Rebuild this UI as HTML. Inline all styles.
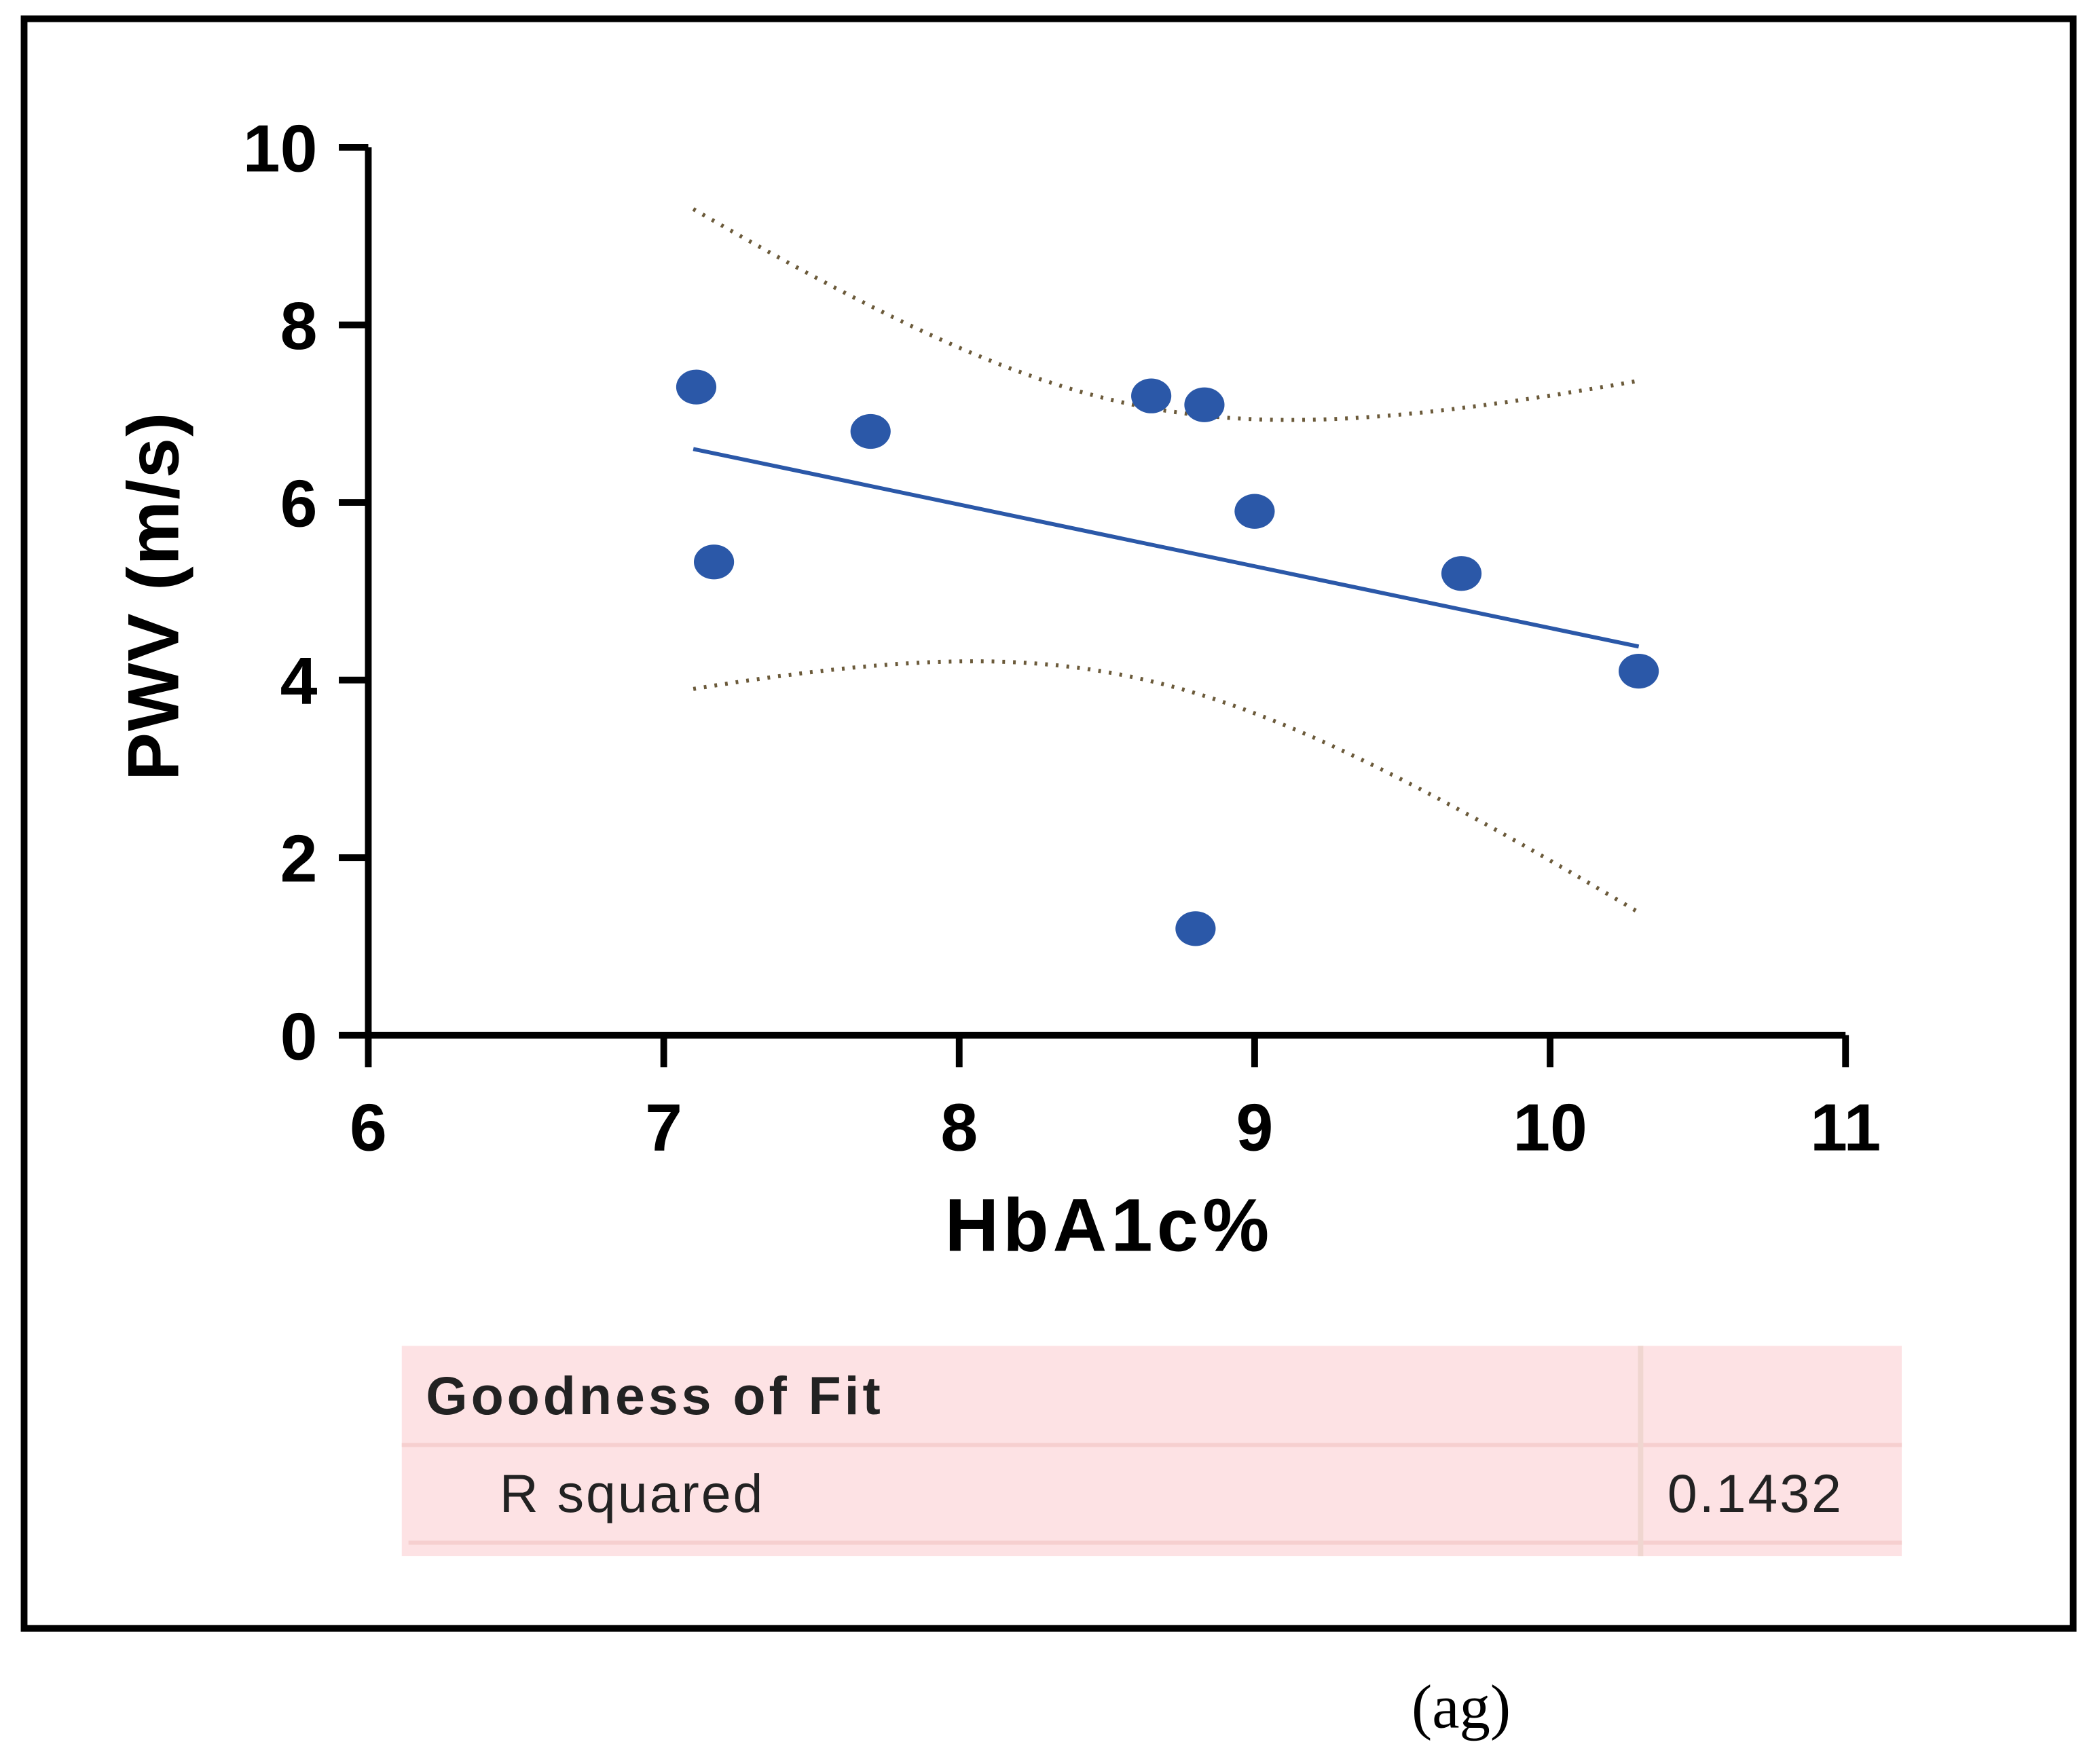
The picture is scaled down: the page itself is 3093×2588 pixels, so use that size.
<!DOCTYPE html>
<html><head><meta charset="utf-8"><style>
html,body{margin:0;padding:0;background:#fff;}
svg{display:block;}
text{font-family:"Liberation Sans",sans-serif;}
</style></head><body>
<svg id="chart" width="3093" height="2588" viewBox="0 0 1568 1312" preserveAspectRatio="none" xmlns="http://www.w3.org/2000/svg">
<rect x="18" y="14" width="1530" height="1202" fill="none" stroke="#000" stroke-width="5"/>
<g id="plot"></g>
<text transform="translate(133,445) rotate(-90)" text-anchor="middle" font-size="54" font-weight="bold" letter-spacing="1">PWV (m/s)</text>
<text x="828" y="934" text-anchor="middle" font-size="56" font-weight="bold" letter-spacing="3">HbA1c%</text>
<g>
<rect x="300" y="1005" width="1120" height="157" fill="#fde2e4"/>
<line x1="300" y1="1079" x2="1420" y2="1079" stroke="#f6cfcf" stroke-width="3"/>
<line x1="305" y1="1152" x2="1420" y2="1152" stroke="#f6cfcf" stroke-width="3"/>
<line x1="1225" y1="1005" x2="1225" y2="1162" stroke="#f0d6d0" stroke-width="4"/>
<text x="318" y="1056" font-size="40" font-weight="bold" fill="#222" letter-spacing="2.5">Goodness of Fit</text>
<text x="373" y="1129" font-size="40" fill="#222" letter-spacing="1.5">R squared</text>
<text x="1245" y="1129" font-size="40" fill="#222" letter-spacing="1.5">0.1432</text>
</g>
<text x="1091" y="1290" text-anchor="middle" font-size="46" style="font-family:'Liberation Serif',serif">(ag)</text>
</svg>
<script>
const xVals = [7.11, 7.17, 7.7, 8.65, 8.83, 9.0, 8.8, 9.7, 10.3];
const yVals = [7.3, 5.33, 6.8, 7.2, 7.1, 5.9, 1.2, 5.2, 4.1];
const xTicks = [6, 7, 8, 9, 10, 11];
const yTicks = [0, 2, 4, 6, 8, 10];
const fitRange = [7.1, 10.3];
const tCrit = 2.365;

const NS = "http://www.w3.org/2000/svg";
const g = document.getElementById('plot');
const X0 = 275, X1 = 1378, Y0 = 773, Y1 = 110;
const sx = v => X0 + (v - 6) / (11 - 6) * (X1 - X0);
const sy = v => Y0 - (v - 0) / (10 - 0) * (Y0 - Y1);
function mk(tag, attrs) { const e = document.createElementNS(NS, tag); for (const k in attrs) e.setAttribute(k, attrs[k]); g.appendChild(e); return e; }

let e;
e = mk('line', {x1: X0, y1: Y0 + 2, x2: X0, y2: Y1, stroke: '#000', 'stroke-width': 5});


e = mk('line', {x1: X0 - 2, y1: Y0, x2: X1, y2: Y0, stroke: '#000', 'stroke-width': 5});



yTicks.forEach(t => {
  const y = sy(t);
  e = mk('line', {x1: X0 - 22, y1: y, x2: X0, y2: y, stroke: '#000', 'stroke-width': 5});
  
  
  e = mk('text', {x: X0 - 38, y: y + 18, 'text-anchor': 'end', 'font-size': 50, 'font-weight': 'bold'});
  e.textContent = t;
  
  
});
xTicks.forEach(t => {
  const x = sx(t);
  e = mk('line', {x1: x, y1: Y0, x2: x, y2: Y0 + 24, stroke: '#000', 'stroke-width': 5});
  
  
  e = mk('text', {x: x, y: Y0 + 86, 'text-anchor': 'middle', 'font-size': 50, 'font-weight': 'bold'});
  e.textContent = t;
  
  
});

// regression
const n = xVals.length;
const mx = xVals.reduce((a, b) => a + b, 0) / n;
const my = yVals.reduce((a, b) => a + b, 0) / n;
let sxx = 0, sxy = 0;
for (let i = 0; i < n; i++) { sxx += (xVals[i] - mx) ** 2; sxy += (xVals[i] - mx) * (yVals[i] - my); }
const slope = sxy / sxx, icpt = my - slope * mx;
let sse = 0;
for (let i = 0; i < n; i++) sse += (yVals[i] - (icpt + slope * xVals[i])) ** 2;
const se = Math.sqrt(sse / (n - 2));
const half = x => tCrit * se * Math.sqrt(1 / n + (x - mx) ** 2 / sxx);
let up = '', lo = '';
for (let k = 0; k <= 60; k++) {
  const x = fitRange[0] + (fitRange[1] - fitRange[0]) * k / 60;
  const yh = icpt + slope * x;
  up += (k ? 'L' : 'M') + sx(x) + ',' + sy(yh + half(x));
  lo += (k ? 'L' : 'M') + sx(x) + ',' + sy(yh - half(x));
}
e = mk('path', {d: up, fill: 'none', stroke: '#6b5a3a', 'stroke-width': 3, 'stroke-dasharray': '2 6'});


e = mk('path', {d: lo, fill: 'none', stroke: '#6b5a3a', 'stroke-width': 3, 'stroke-dasharray': '2 6'});


e = mk('line', {x1: sx(fitRange[0]), y1: sy(icpt + slope * fitRange[0]), x2: sx(fitRange[1]), y2: sy(icpt + slope * fitRange[1]), stroke: '#2b58a8', 'stroke-width': 3});



for (let i = 0; i < n; i++) {
  e = mk('ellipse', {cx: sx(xVals[i]), cy: sy(yVals[i]), rx: 15, ry: 13, fill: '#2b58a8'});
  
  
}
</script>
</body></html>
